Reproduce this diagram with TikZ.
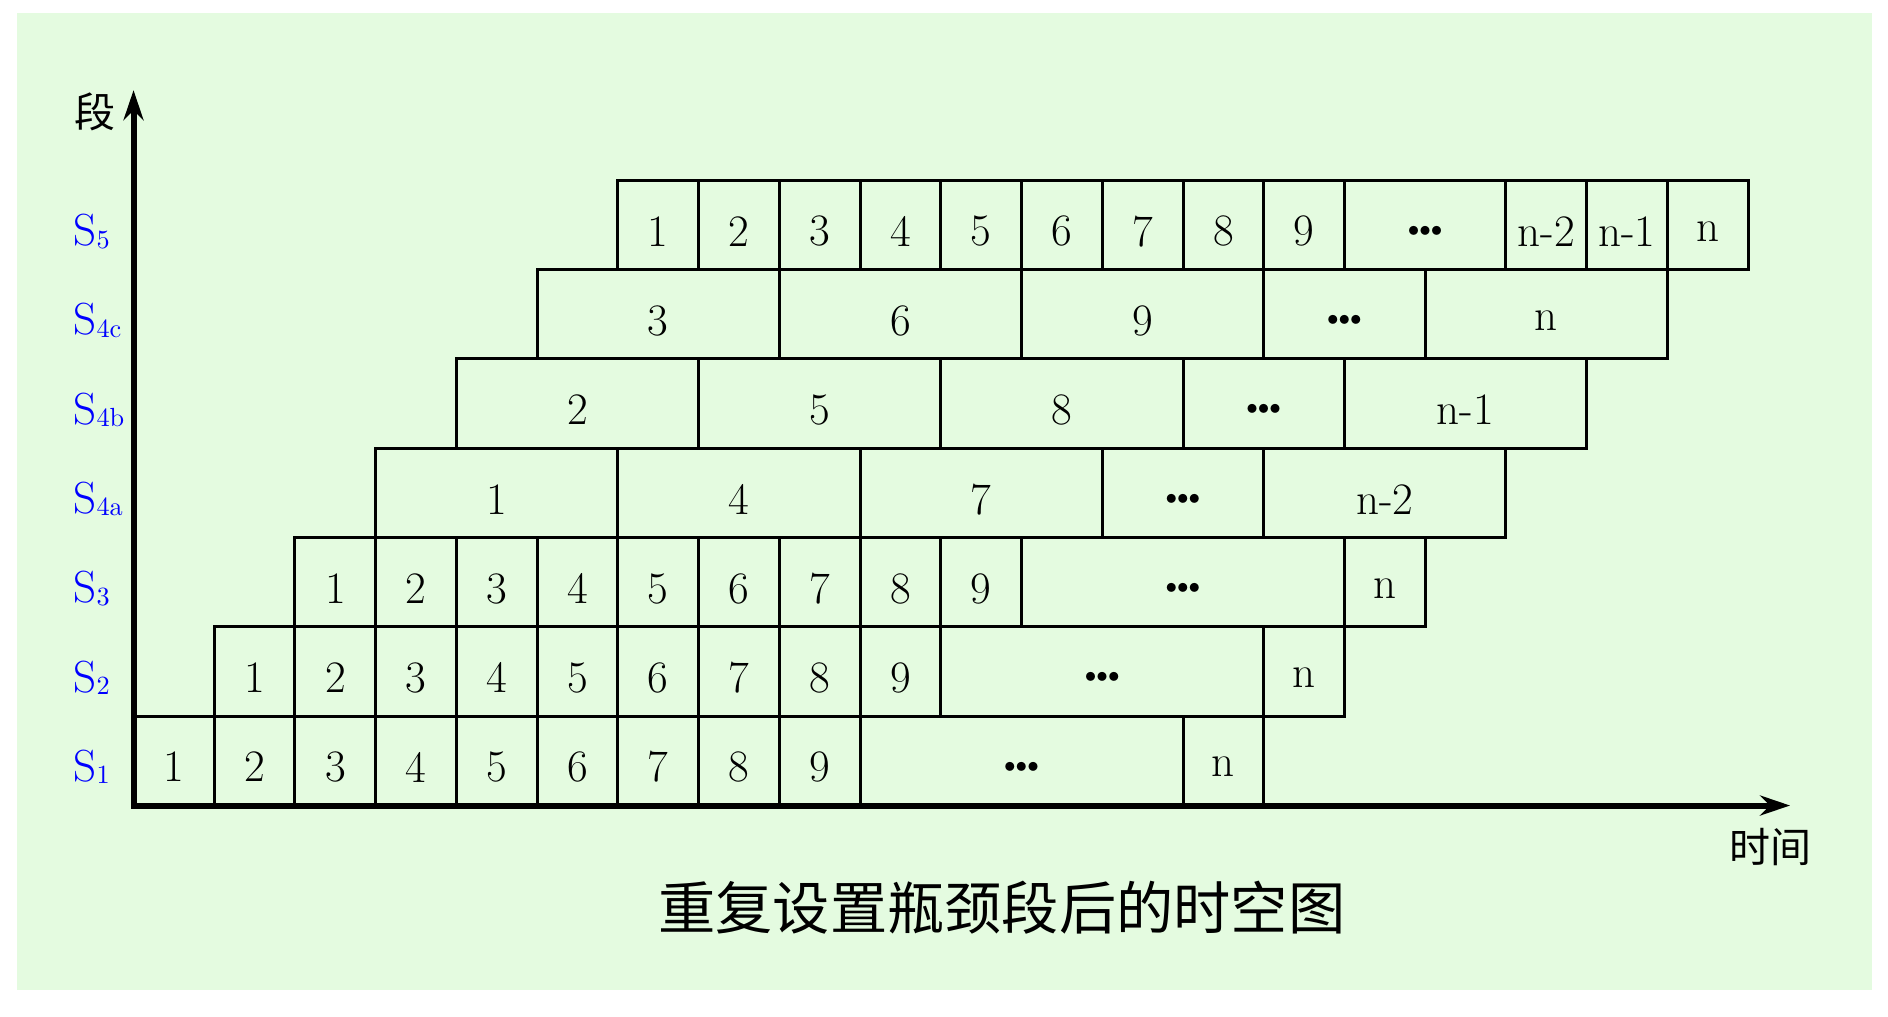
\documentclass[tikz,border=0pt]{standalone}
\usepackage{fontspec}
\usetikzlibrary{arrows.meta}
\newfontfamily\cjk{Noto Sans CJK SC}
\definecolor{bggreen}{RGB}{228,251,224}
\newcommand{\dotcell}{{\fontsize{9}{9}\selectfont${\bullet}{\bullet}{\bullet}$}}
\newcommand{\stage}[1]{S\raisebox{-1pt}{\fontsize{10.5}{12}\selectfont#1}}

\begin{document}
\begin{tikzpicture}[x=32.29pt, y=35.72pt,
	cell/.style={line width=1.2pt},
	lbl/.style={font=\fontsize{18}{20}\selectfont},
	slbl/.style={text=blue, font=\fontsize{18}{20}\selectfont, anchor=base west, inner sep=0pt},
	axis/.style={line width=2.4pt, {Stealth[length=12pt,width=8pt]}-{Stealth[length=12pt,width=8pt]}}]
	\useasboundingbox (-1.654,-2.357) rectangle (21.733,9.020);
	\fill[bggreen] (-1.443,-2.066) rectangle (21.535,8.875);

	% rows of single cells 1..9
	\foreach \r/\o in {0/0, 1/1, 2/2, 6/6}
		\foreach \i in {1,...,9} {
			\draw[cell] (\i-1+\o,\r) rectangle +(1,1);
			\node[lbl] (c\r-\i) at (\i-0.5+\o,\r+0.43) {\i};
		}

	% wide cells
	\foreach \r/\a/\b/\txt in {0/9/13/\dotcell, 0/13/14/n,
			1/10/14/\dotcell, 1/14/15/n,
			2/11/15/\dotcell, 2/15/16/n,
			3/3/6/1, 3/6/9/4, 3/9/12/7, 3/12/14/\dotcell, 3/14/17/n-2,
			4/4/7/2, 4/7/10/5, 4/10/13/8, 4/13/15/\dotcell, 4/15/18/n-1,
			5/5/8/3, 5/8/11/6, 5/11/14/9, 5/14/16/\dotcell, 5/16/19/n,
			6/15/17/\dotcell, 6/17/18/n-2, 6/18/19/n-1, 6/19/20/n} {
		\draw[cell] (\a,\r) rectangle (\b,\r+1);
		\node[lbl] (w\r-\a) at ({(\a+\b)/2},\r+0.43) {\txt};
	}

	% stage labels
	\foreach \r/\s in {0/1, 1/2, 2/3, 3/4a, 4/4b, 5/4c, 6/5}
		\node[slbl] (s\s) at (-0.749,\r+0.27) {\stage{\s}};

	% axes
	\coordinate (o) at (0,0);
	\coordinate (ytop) at (0,8.01);
	\coordinate (xend) at (20.52,0);
	\draw[axis] (ytop) |- (xend);

	\node[font=\cjk\fontsize{16.4}{18}\selectfont] (seg) at (-0.483,7.77) {段};
	\node[font=\cjk\fontsize{16.4}{18}\selectfont] (time) at (20.28,-0.465) {时间};
	\node[font=\cjk\fontsize{22.9}{26}\selectfont] (title) at (10.755,-1.148) {重复设置瓶颈段后的时空图};

\end{tikzpicture}
\end{document}
